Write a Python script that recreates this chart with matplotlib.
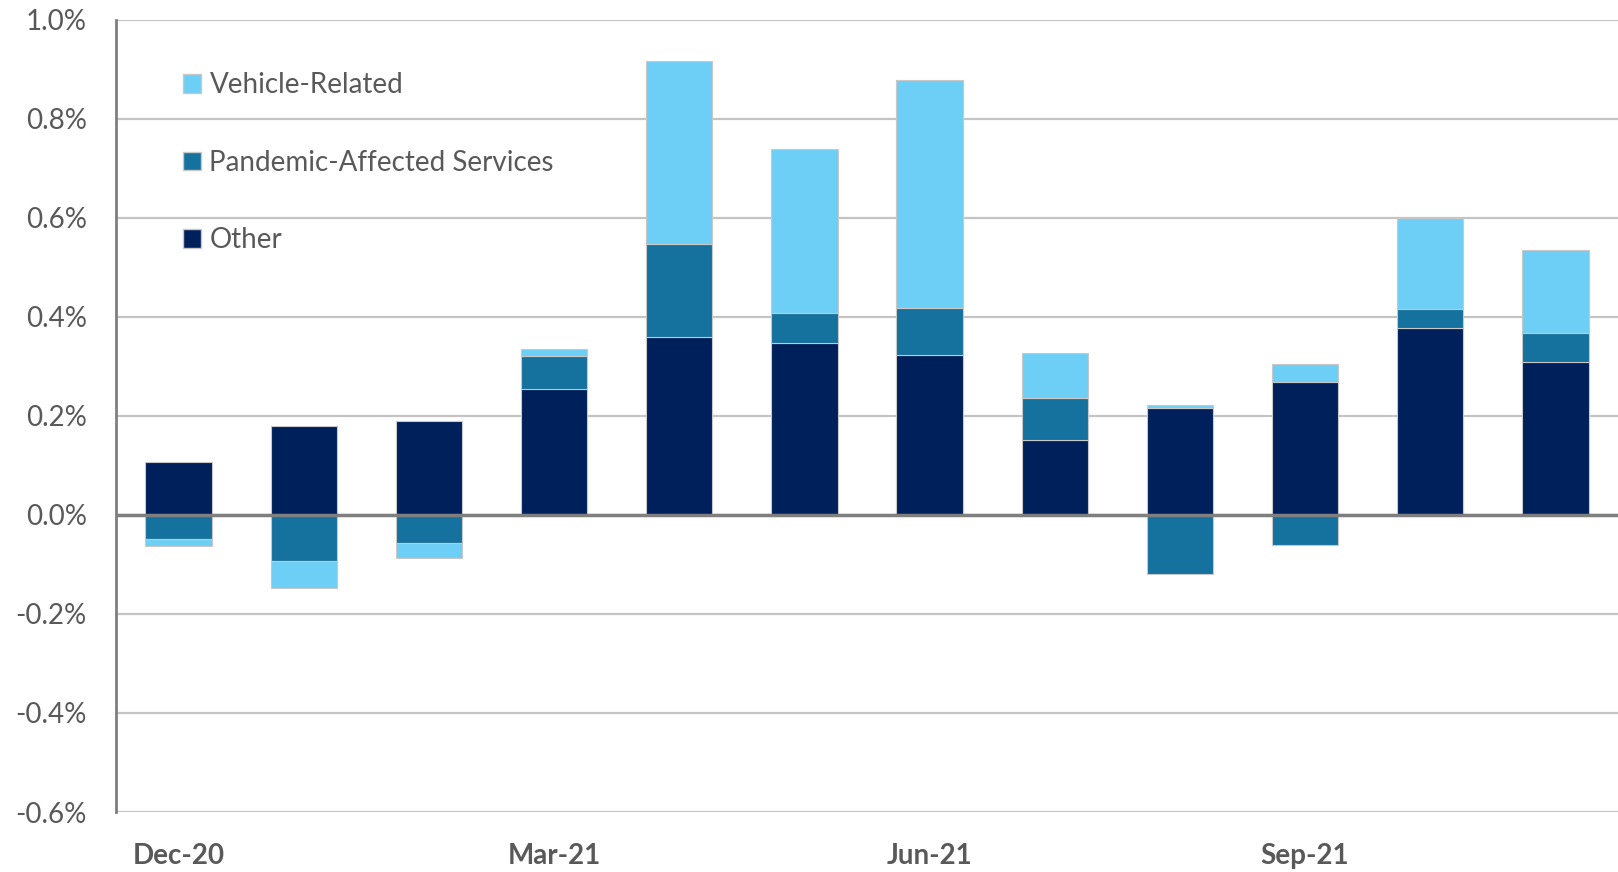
import numpy as np
import matplotlib
matplotlib.use("Agg")
import matplotlib.pyplot as plt
from matplotlib.patches import Patch

plt.rcParams['font.family'] = ['Lato', 'DejaVu Sans']

months = ["Dec-20", "Jan-21", "Feb-21", "Mar-21", "Apr-21", "May-21",
          "Jun-21", "Jul-21", "Aug-21", "Sep-21", "Oct-21", "Nov-21"]
other = [0.106, 0.179, 0.189, 0.254, 0.360, 0.348, 0.322, 0.152, 0.216, 0.268, 0.377, 0.309]
pandemic = [-0.049, -0.093, -0.057, 0.067, 0.186, 0.059, 0.096, 0.083, -0.120, -0.060, 0.038, 0.058]
vehicle = [-0.013, -0.054, -0.030, 0.014, 0.371, 0.332, 0.460, 0.092, 0.005, 0.036, 0.184, 0.167]
tick_months = ["Dec-20", "Mar-21", "Jun-21", "Sep-21"]

c_vehicle = "#6ECFF6"
c_pandemic = "#15719E"
c_other = "#00205B"
grey_txt = "#595959"

fig = plt.figure(figsize=(16.18, 8.72), dpi=100)
ax = fig.add_axes([0.0717, 0.0688, 0.9283, 0.9087])

x = np.arange(len(months))
width = 0.53
pos_base = np.zeros(len(months))
neg_base = np.zeros(len(months))
for vals, col in [(other, c_other), (pandemic, c_pandemic), (vehicle, c_vehicle)]:
    vals = np.array(vals)
    base = np.where(vals >= 0, pos_base, neg_base)
    ax.bar(x, vals, width, bottom=base, color=col, edgecolor="#c8c8c8",
           linewidth=0.8, zorder=3)
    pos_base += np.where(vals >= 0, vals, 0)
    neg_base += np.where(vals < 0, vals, 0)

ax.set_xlim(-0.5, len(months) - 0.5)
ax.set_ylim(-0.6, 1.0)
yticks = np.arange(-0.6, 1.01, 0.2)
ax.set_yticks(yticks)
ax.set_yticklabels(["{:.1f}%".format(v) for v in yticks], fontsize=20, color=grey_txt)
for v in yticks:
    ax.axhline(v, color="#c4c4c4", linewidth=1.6, zorder=1)
ax.axhline(0, color="#7f7f7f", linewidth=2.5, zorder=4)

ax.set_xticks([months.index(m) for m in tick_months])
ax.set_xticklabels(tick_months, fontsize=20, fontweight="bold", color=grey_txt)
ax.tick_params(axis="both", length=0)
ax.tick_params(axis="x", pad=22)
ax.tick_params(axis="y", pad=21)

for s in ["top", "right", "bottom"]:
    ax.spines[s].set_visible(False)
ax.spines["left"].set_color("#7f7f7f")
ax.spines["left"].set_linewidth(2)

handles = [Patch(facecolor=c_vehicle, edgecolor="#c8c8c8", label="Vehicle-Related"),
           Patch(facecolor=c_pandemic, edgecolor="#c8c8c8", label="Pandemic-Affected Services"),
           Patch(facecolor=c_other, edgecolor="#c8c8c8", label="Other")]
leg = ax.legend(handles=handles, loc="upper left", bbox_to_anchor=(0.028, 0.965),
                frameon=False, fontsize=20, labelspacing=1.85, handlelength=0.65,
                handleheight=0.65, handletextpad=0.3)
for t in leg.get_texts():
    t.set_color(grey_txt)

fig.savefig("out.png", dpi=100)
